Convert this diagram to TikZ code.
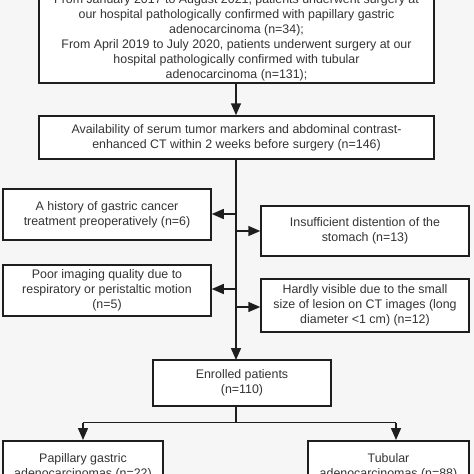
\documentclass[tikz,border=0pt]{standalone}
\usepackage{fontspec}
\setmainfont{Liberation Sans}
\usetikzlibrary{arrows.meta}
\definecolor{bgc}{HTML}{F6F6F6}
\definecolor{txt}{HTML}{333333}
\definecolor{ln}{HTML}{1E1E1E}
\tikzset{
  box/.style={draw=ln, line width=1.5pt, fill=white, inner sep=0pt, align=center,
    text=txt, font=\fontsize{12.4}{15}\selectfont},
  conn/.style={draw=ln, line width=1.5pt},
  arr/.style={conn, -{Triangle[length=12pt,width=10pt]}}
}
\begin{document}
\begin{tikzpicture}[x=1pt,y=-1pt]
\useasboundingbox (0,0) rectangle (474,474);
\clip (0,0) rectangle (474,474);
\fill[bgc] (0,0) rectangle (474,474);
\node[box, minimum width=395pt, minimum height=91pt] (top) at (236.5,37.5)
 {From January 2017 to August 2021, patients underwent surgery at\\our hospital pathologically confirmed with papillary gastric\\adenocarcinoma (n=34);\\From April 2019 to July 2020, patients underwent surgery at our\\hospital pathologically confirmed with tubular\\adenocarcinoma (n=131);};
\node[box, minimum width=395pt, minimum height=43pt] (avail) at (236.5,137.5)
 {Availability of serum tumor markers and abdominal contrast-\\enhanced CT within 2 weeks before surgery (n=146)};
\node[box, minimum width=208pt, minimum height=51pt] (hist) at (107,214.5)
 {A history of gastric cancer\\treatment preoperatively (n=6)};
\node[box, minimum width=208pt, minimum height=50pt] (insuf) at (365,231)
 {Insufficient distention of the\\stomach (n=13)};
\node[box, minimum width=208pt, minimum height=51pt] (poor) at (107,290.5)
 {Poor imaging quality due to\\respiratory or peristaltic motion\\(n=5)};
\node[box, minimum width=208pt, minimum height=53pt] (hard) at (365,305.5)
 {Hardly visible due to the small\\size of lesion on CT images (long\\diameter <1 cm) (n=12)};
\node[box, minimum width=178pt, minimum height=46pt] (enr) at (242,383)
 {Enrolled patients\\(n=110)};
\node[box, minimum width=160pt, minimum height=52pt, anchor=north] (pap) at (83,440)
 {Papillary gastric\\adenocarcinomas (n=22)};
\node[box, minimum width=161pt, minimum height=52pt, anchor=north] (tub) at (388.5,440)
 {Tubular\\adenocarcinomas (n=88)};
\coordinate (t1) at (236,214);
\coordinate (t2) at (236,231);
\coordinate (t3) at (236,289);
\coordinate (t4) at (236,307);
\coordinate (tE) at (236,360);
\coordinate (s0) at (236,406);
\coordinate (s) at (236,422.5);
\coordinate (sl) at (83,422.5);
\coordinate (sr) at (396,422.5);
\coordinate (pr) at (396,440);
\draw[arr] (top.south -| 236,0) -- (avail.north -| 236,0);
\draw[arr] (avail.south -| 236,0) -- (tE);
\draw[arr] (t1) -- (t1 -| hist.east);
\draw[arr] (t2) -- (t2 -| insuf.west);
\draw[arr] (t3) -- (t3 -| poor.east);
\draw[arr] (t4) -- (t4 -| hard.west);
\draw[conn] (s0) -- (s);
\draw[conn] (sl) -- (sr);
\draw[arr] (sl) -- (pap.north);
\draw[arr] (sr) -- (pr);
\end{tikzpicture}
\end{document}
